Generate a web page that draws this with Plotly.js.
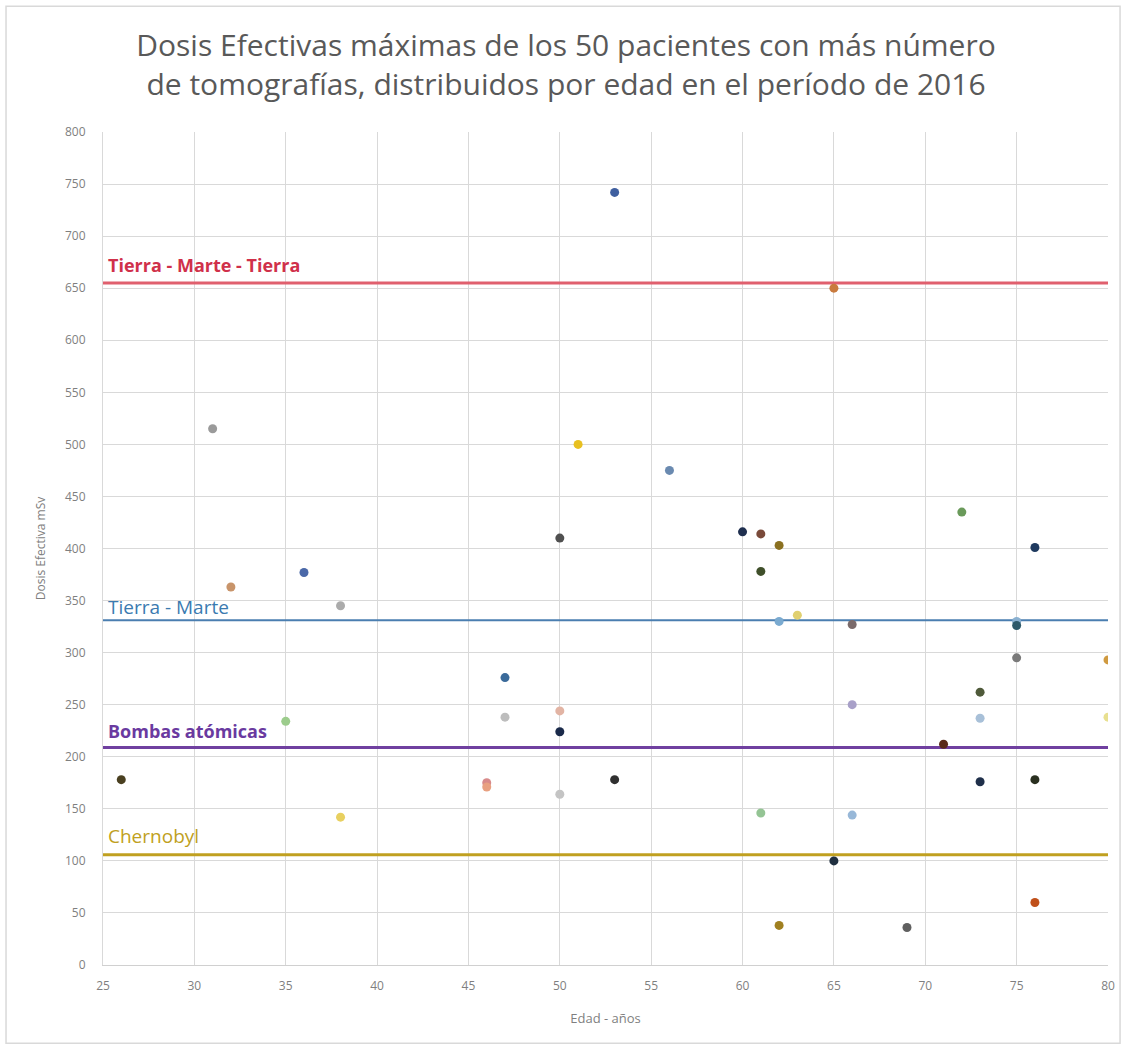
<!DOCTYPE html>
<html>
<head>
<meta charset="utf-8">
<script src="https://cdn.plot.ly/plotly-3.0.1.min.js"></script>
<style>
html,body{margin:0;padding:0;background:#fff;}
#chart{width:1132px;height:1050px;}
</style>
</head>
<body>
<div id="chart"></div>
<script>
// Patient data: age (years) and maximum effective dose (mSv)
const edades = [26,31,32,35,36,38,38,46,46,47,47,50,50,50,50,51,53,53,56,60,61,61,61,62,62,62,63,65,65,66,66,66,69,71,72,73,73,73,75,75,75,76,76,76,80,80];
const dosis  = [178,515,363,234,377,345,142,175,171,276,238,410,244,224,164,500,742,178,475,416,414,378,146,403,330,38,336,650,100,327,250,144,36,212,435,262,237,176,330,326,295,401,178,60,293,238];
const colores = ["#4a4020","#9a9a9a","#c8946a","#9ccc8c","#4a68a8","#ababab","#e8d060","#d88a8a","#e8a080","#3a6a9a","#bdbdbd","#505050","#e2b4a4","#1a2a4a","#c4c4c4","#e8c020","#3f5f9f","#303030","#6a8ab0","#1f2f4f","#7a4a3a","#3f4f2a","#94c494","#8a7020","#7aaad0","#a08020","#e0d070","#c97b3f","#1f2f3f","#7a6a6a","#a8a0c8","#98b8d8","#606060","#5a2a1a","#6a9a5a","#4f5a3a","#a8c0d8","#1f2f4a","#8ab0d0","#2f5a6a","#7a7a7a","#1f3a5f","#2a3020","#c0501a","#d09a40","#e8e090"];

// Reference levels (mSv)
const refNombres = ["Tierra - Marte - Tierra","Tierra - Marte","Bombas atómicas","Chernobyl"];
const refValores = [655,331,209,106];
const refColores = ["#e0606e","#4a7eb0","#7040a0","#c0a020"];
const refTexto   = ["#d0304a","#3a7ab0","#6a3aa0","#c0a020"];
const refAnchos  = [3,2,3,3];
const refBold    = [true,false,true,false];
const refTam     = [18,19,18,19];
const refEtiquetaY = [672,344,225,124];

const xRango = [25,80];
const xTicks = [25,30,35,40,45,50,55,60,65,70,75,80];
const yTicks = [0,50,100,150,200,250,300,350,400,450,500,550,600,650,700,750,800];

const traces = [];
refValores.forEach((v,i)=>{
  traces.push({
    type:'scatter', mode:'lines',
    x:[xRango[0], xRango[1]], y:[v, v],
    line:{color:refColores[i], width:refAnchos[i]},
    hoverinfo:'skip', showlegend:false
  });
});
traces.push({
  type:'scatter', mode:'markers',
  x:edades, y:dosis,
  marker:{color:colores, size:9, line:{width:0}},
  showlegend:false
});

const annotations = refNombres.map((n,i)=>({
  x:25.15, y:refEtiquetaY[i], xref:'x', yref:'y',
  xanchor:'left', yanchor:'middle', showarrow:false,
  text: refBold[i] ? '<b>'+n+'</b>' : n,
  font:{family:'Open Sans, sans-serif', size:refTam[i], color:refTexto[i]}
}));

const layout = {
  width:1132, height:1050,
  margin:{l:103, r:24, t:132, b:85},
  paper_bgcolor:'#ffffff', plot_bgcolor:'#ffffff',
  title:{
    text:'Dosis Efectivas máximas de los 50 pacientes con más número<br>de tomografías, distribuidos por edad en el período de 2016',
    font:{family:'Open Sans, sans-serif', size:30, color:'#595959'},
    x:0.5, xanchor:'center', y:0.947, yanchor:'middle'
  },
  xaxis:{
    range:xRango, tickvals:xTicks, ticktext:xTicks.map(String),
    showgrid:true, gridcolor:'#d9d9d9', gridwidth:1,
    zeroline:false, showline:true, linecolor:'#d0d0d0', linewidth:1,
    ticks:'', tickfont:{family:'Open Sans, sans-serif', size:12, color:'#7f7f7f'},
    ticklabelstandoff:10,
    title:{text:'Edad - años', font:{family:'Open Sans, sans-serif', size:13, color:'#7f7f7f'}, standoff:20}
  },
  yaxis:{
    range:[0,800], tickvals:yTicks, ticktext:yTicks.map(String),
    showgrid:true, gridcolor:'#d9d9d9', gridwidth:1,
    zeroline:false, showline:true, linecolor:'#d9d9d9', linewidth:1,
    ticks:'', tickfont:{family:'Open Sans, sans-serif', size:12, color:'#7f7f7f'},
    ticklabelstandoff:14,
    title:{text:'Dosis Efectiva mSv', font:{family:'Open Sans, sans-serif', size:12, color:'#7f7f7f'}, standoff:16}
  },
  annotations:annotations,
  shapes:[{
    type:'rect', xref:'paper', yref:'paper',
    x0:-0.0965, x1:1.012, y0:-0.094, y1:1.151,
    line:{color:'#d9d9d9', width:1.5}, fillcolor:'rgba(0,0,0,0)', layer:'below'
  }]
};

Plotly.newPlot('chart', traces, layout, {displayModeBar:false, staticPlot:true});
</script>
</body>
</html>
